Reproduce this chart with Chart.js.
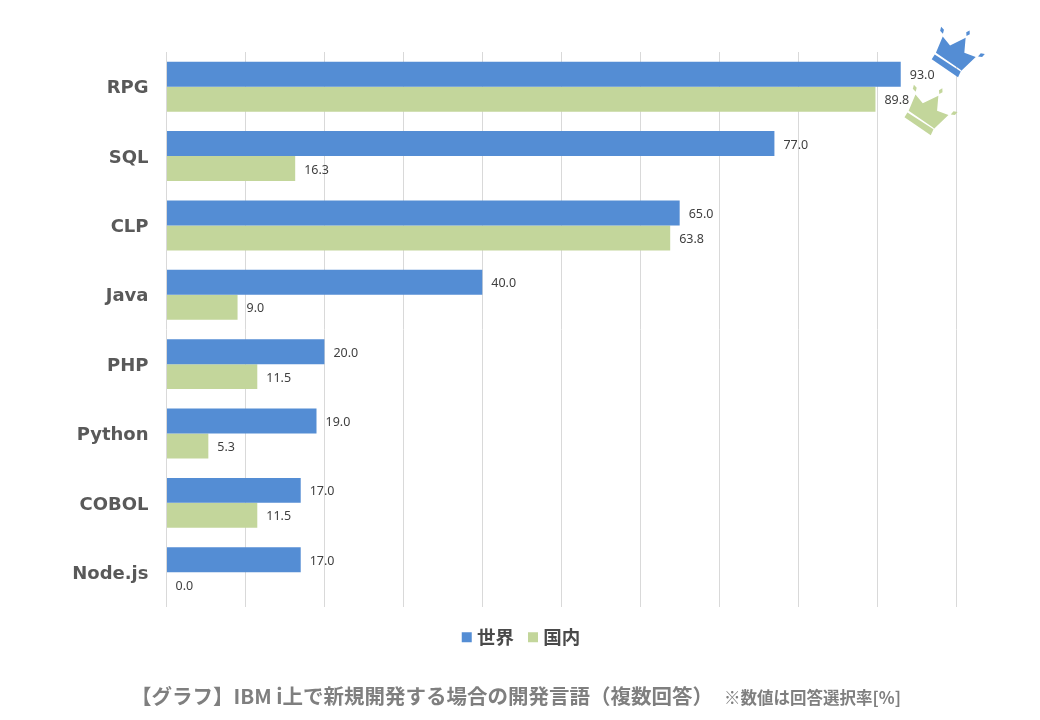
<!DOCTYPE html>
<html lang="ja"><head><meta charset="utf-8">
<style>html,body{margin:0;padding:0;background:#fff}#w{width:1040px;height:720px}</style>
<script src="https://cdn.jsdelivr.net/npm/chart.js@4/dist/chart.umd.min.js"></script>
</head><body><div id="w"><canvas id="c" width="1040" height="720"></canvas></div>
<script>
const categories = ["RPG","SQL","CLP","Java","PHP","Python","COBOL","Node.js"];
const worldValues = [93.0,77.0,65.0,40.0,20.0,19.0,17.0,17.0];
const japanValues = [89.8,16.3,63.8,9.0,11.5,5.3,11.5,0.0];
const seriesNames = ["世界","国内"];
const titleText = "【グラフ】IBM i上で新規開発する場合の開発言語（複数回答）";
const noteText = "※数値は回答選択率[%]";
const BLUE="#548DD4", GREEN="#C3D69B";
const CJK='"Noto Sans CJK JP","Noto Sans",sans-serif';

// crown outline relative to its bar end, in px
const crownBody=[[35.2,-21.5],[42,-37.6],[49.3,-28.8],[64.9,-36.4],[63.6,-21.4],[75,-17.2],[60.6,-3.4],[59.5,-4.6]];
const crownBand=[[31,-15],[34,-19.6],[60,-2.8],[57.3,3]];
const crownGems=[[41.3,-44,2,3.6,-.25],[67.3,-41,2,3.2,.5],[80.7,-19,3.6,2,-.35]];
function drawCrown(ctx,x,y,color){
  ctx.save();ctx.translate(x,y);ctx.fillStyle=color;
  for(const poly of [crownBody,crownBand]){
    ctx.beginPath();poly.forEach((p,i)=>i?ctx.lineTo(p[0],p[1]):ctx.moveTo(p[0],p[1]));ctx.closePath();ctx.fill();
  }
  for(const g of crownGems){
    ctx.save();ctx.translate(g[0],g[1]);ctx.rotate(g[4]);
    ctx.beginPath();ctx.moveTo(-g[2],0);ctx.lineTo(0,-g[3]);ctx.lineTo(g[2],0);ctx.lineTo(0,g[3]);ctx.closePath();ctx.fill();
    ctx.restore();
  }
  ctx.restore();
}
const annotate={id:"annotate",
 afterLayout(chart){
  const lg=chart.legend; lg.left=3; lg.right=1043; lg.width=1040; lg.top+=3; lg.bottom+=3;
  const t=chart.titleBlock; t.left=131; t.right=1040; t.width=909; t.top+=1; t.bottom+=1;
  chart.scales.y.getLabelItems().forEach(it=>{it.options.translation[1]+=2;});
 },
 afterDatasetsDraw(chart){
  const ctx=chart.ctx;
  ctx.save();
  ctx.font='12.5px "Noto Sans",sans-serif';ctx.fillStyle="#404040";ctx.textAlign="left";ctx.textBaseline="middle";
  chart.data.datasets.forEach((ds,d)=>{
    chart.getDatasetMeta(d).data.forEach((bar,i)=>ctx.fillText(ds.data[i].toFixed(1),bar.x+9,bar.y+1.5));
  });
  const b0=chart.getDatasetMeta(0).data[0], b1=chart.getDatasetMeta(1).data[0];
  drawCrown(ctx,b0.x,b0.y,BLUE);
  drawCrown(ctx,b1.x-2,b1.y+33,GREEN);
  ctx.font='bold 16.5px '+CJK;ctx.fillStyle="#7f7f7f";ctx.textAlign="left";
  ctx.fillText(noteText,724,698);
  ctx.restore();
}};
new Chart(document.getElementById("c"),{
  type:"bar",
  data:{labels:categories,datasets:[
    {label:seriesNames[0],data:worldValues,backgroundColor:BLUE},
    {label:seriesNames[1],data:japanValues,backgroundColor:GREEN}
  ]},
  plugins:[annotate],
  options:{
    indexAxis:"y",responsive:false,animation:false,devicePixelRatio:1,
    categoryPercentage:0.72,barPercentage:1,
    layout:{padding:{top:52,right:84,bottom:12,left:0}},
    scales:{
      x:{min:0,max:100,ticks:{display:false,stepSize:10},border:{display:false},
         grid:{color:"#d9d9d9",lineWidth:1,drawTicks:false}},
      y:{ticks:{color:"#595959",padding:18,font:{family:'"DejaVu Sans",sans-serif',size:18,weight:"bold"}},
         grid:{display:false,drawTicks:false},border:{display:false},
         afterFit(s){s.width=166.5;}}
    },
    plugins:{
      legend:{position:"bottom",labels:{usePointStyle:true,pointStyle:"rect",boxWidth:2,boxHeight:10,padding:18,color:"#4a4a4a",
        font:{family:CJK,size:18.5,weight:"bold"}}},
      title:{display:true,text:titleText,position:"bottom",align:"start",color:"#7f7f7f",padding:{top:30,bottom:0},
        font:{family:CJK,size:20.5,weight:"bold"}},
      tooltip:{enabled:false}
    }
  }
});
</script></body></html>
